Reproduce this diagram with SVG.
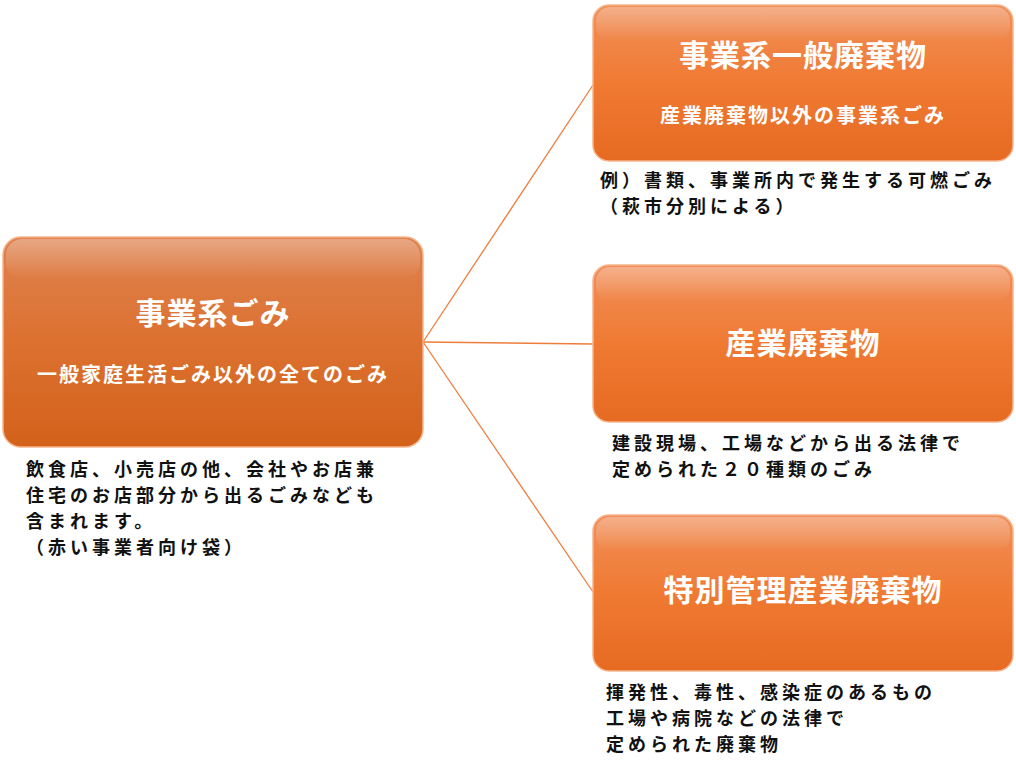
<svg xmlns="http://www.w3.org/2000/svg" width="1016" height="767" viewBox="0 0 1016 767">
  <defs>
    <linearGradient id="gL" x1="0" y1="0" x2="0" y2="1">
      <stop offset="0" stop-color="#df824f"/>
      <stop offset="0.5" stop-color="#dc7130"/>
      <stop offset="1" stop-color="#d3611a"/>
    </linearGradient>
    <linearGradient id="gR" x1="0" y1="0" x2="0" y2="1">
      <stop offset="0" stop-color="#f08f5a"/>
      <stop offset="0.5" stop-color="#f07a32"/>
      <stop offset="1" stop-color="#e66a22"/>
    </linearGradient>
    <linearGradient id="gTop" x1="0" y1="0" x2="0" y2="1">
      <stop offset="0" stop-color="#ffffff" stop-opacity="0.3"/>
      <stop offset="1" stop-color="#ffffff" stop-opacity="0"/>
    </linearGradient>
  </defs>
  <style>
    .box { stroke: #f6b48c; stroke-width: 1.5; }
    .shine { fill: url(#gTop); }
    .title { font-family: "Noto Sans CJK JP", "Noto Sans", sans-serif; font-weight: bold; fill: #ffffff; font-size: 30px; letter-spacing: 1px; text-anchor: middle; }
    .sub { font-family: "Noto Sans CJK JP", "Noto Sans", sans-serif; font-weight: bold; fill: #ffffff; font-size: 20px; letter-spacing: 2px; text-anchor: middle; }
    .note { font-family: "Noto Sans CJK JP", "Noto Sans", sans-serif; font-weight: bold; fill: #111111; font-size: 18px; letter-spacing: 4px; }
    .conn { stroke: #ee7d3c; stroke-width: 1.3; fill: none; }
  </style>

  <g id="connectors">
    <line class="conn" x1="423" y1="342" x2="593" y2="85"/>
    <line class="conn" x1="423" y1="342" x2="593" y2="344"/>
    <line class="conn" x1="423" y1="342" x2="593" y2="592"/>
  </g>

  <g id="node-jigyokei">
    <rect class="box" x="3" y="237" width="420" height="210" rx="18" fill="url(#gL)"/>
    <rect class="shine" x="6" y="239" width="414" height="40" rx="16"/>
    <text class="title" x="213" y="324">事業系ごみ</text>
    <text class="sub" x="213" y="382">一般家庭生活ごみ以外の全てのごみ</text>
  </g>
  <g id="note-jigyokei">
    <text class="note" x="26" y="476">飲食店、小売店の他、会社やお店兼</text>
    <text class="note" x="26" y="502">住宅のお店部分から出るごみなども</text>
    <text class="note" x="26" y="528">含まれます。</text>
    <text class="note" x="26" y="554">（赤い事業者向け袋）</text>
  </g>

  <g id="node-ippan">
    <rect class="box" x="593" y="5" width="420" height="156" rx="16" fill="url(#gR)"/>
    <rect class="shine" x="596" y="7" width="414" height="34" rx="14"/>
    <text class="title" x="803" y="66">事業系一般廃棄物</text>
    <text class="sub" x="803" y="123">産業廃棄物以外の事業系ごみ</text>
  </g>
  <g id="note-ippan">
    <text class="note" x="600" y="187">例）書類、事業所内で発生する可燃ごみ</text>
    <text class="note" x="600" y="213">（萩市分別による）</text>
  </g>

  <g id="node-sangyo">
    <rect class="box" x="593" y="265" width="420" height="157" rx="16" fill="url(#gR)"/>
    <rect class="shine" x="596" y="267" width="414" height="34" rx="14"/>
    <text class="title" x="803" y="354">産業廃棄物</text>
  </g>
  <g id="note-sangyo">
    <text class="note" x="612" y="450">建設現場、工場などから出る法律で</text>
    <text class="note" x="612" y="476">定められた２０種類のごみ</text>
  </g>

  <g id="node-tokubetsu">
    <rect class="box" x="593" y="515" width="420" height="156" rx="16" fill="url(#gR)"/>
    <rect class="shine" x="596" y="517" width="414" height="34" rx="14"/>
    <text class="title" x="803" y="601">特別管理産業廃棄物</text>
  </g>
  <g id="note-tokubetsu">
    <text class="note" x="606" y="699">揮発性、毒性、感染症のあるもの</text>
    <text class="note" x="606" y="725">工場や病院などの法律で</text>
    <text class="note" x="606" y="751">定められた廃棄物</text>
  </g>
</svg>
